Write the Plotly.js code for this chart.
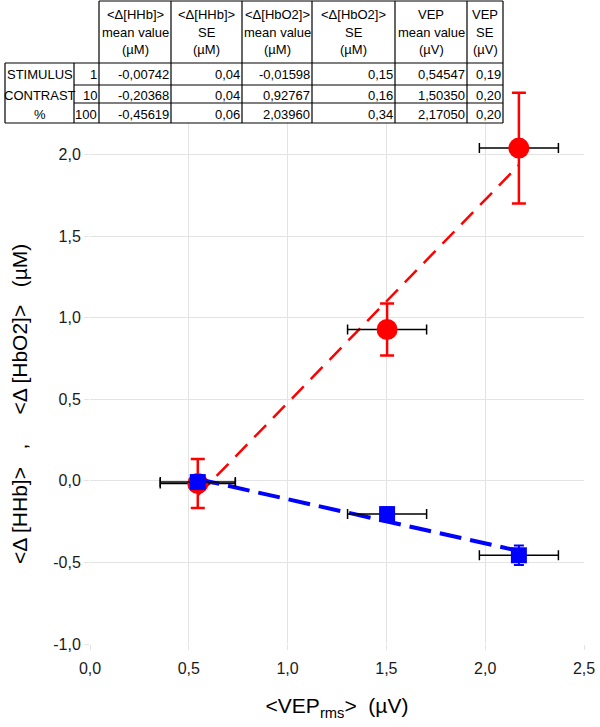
<!DOCTYPE html>
<html>
<head>
<meta charset="utf-8">
<script src="https://cdn.plot.ly/plotly-3.0.1.min.js"></script>
<style>html,body{margin:0;padding:0;background:#fff;}#chart{width:600px;height:727px;}</style>
</head>
<body>
<div id="chart"></div>
<script>
// ---- data ----
const contrast = [1, 10, 100];
const hhbMean = [-0.00742, -0.20368, -0.45619];
const hhbSE = [0.04, 0.04, 0.06];
const hbo2Mean = [-0.01598, 0.92767, 2.03960];
const hbo2SE = [0.15, 0.16, 0.34];
const vepMean = [0.54547, 1.50350, 2.17050];
const vepSE = [0.19, 0.20, 0.20];
const headerTop = ['<Δ[HHb]>', '<Δ[HHb]>', '<Δ[HbO2]>', '<Δ[HbO2]>', 'VEP', 'VEP'];
const headerMid = ['mean value', 'SE', 'mean value', 'SE', 'mean value', 'SE'];
const headerUnit = ['(µM)', '(µM)', '(µM)', '(µM)', '(µV)', '(µV)'];
const rowLabel = ['STIMULUS', 'CONTRAST', '%'];
const xTickVals = [0, 0.5, 1, 1.5, 2, 2.5];
const xTickText = ['0,0', '0,5', '1,0', '1,5', '2,0', '2,5'];
const yTickVals = [-1, -0.5, 0, 0.5, 1, 1.5, 2];
const yTickText = ['-1,0', '-0,5', '0,0', '0,5', '1,0', '1,5', '2,0'];

// ---- geometry ----
const W = 600, H = 727;
const M = {l: 90, r: 16, t: 73, b: 83};
const PW = W - M.l - M.r, PH = H - M.t - M.b;
const px = x => (x - M.l) / PW;
const py = y => (H - M.b - y) / PH;

function fit(xs, ys) {
  const n = xs.length;
  const mx = xs.reduce((a, b) => a + b, 0) / n;
  const my = ys.reduce((a, b) => a + b, 0) / n;
  let sxy = 0, sxx = 0;
  for (let i = 0; i < n; i++) { sxy += (xs[i] - mx) * (ys[i] - my); sxx += (xs[i] - mx) ** 2; }
  const s = sxy / sxx, b = my - s * mx;
  const x0 = Math.min(...xs), x1 = Math.max(...xs);
  return {x: [x0, x1], y: [b + s * x0, b + s * x1]};
}
const redFit = fit(vepMean, hbo2Mean);
const blueFit = fit(vepMean, hhbMean);

const fmt = (v, d) => v.toFixed(d).replace('.', ',');
const esc = s => s.replace(/</g, '&lt;').replace(/>/g, '&gt;');

const traces = [
  {x: redFit.x, y: redFit.y, mode: 'lines', line: {color: '#ff0000', width: 2.5, dash: '17px,10px'}, hoverinfo: 'skip'},
  {x: vepMean, y: hbo2Mean, mode: 'markers', marker: {symbol: 'circle', size: 21, color: '#ff0000'},
   error_y: {type: 'data', array: hbo2SE, visible: true, color: '#ff0000', thickness: 2.5, width: 7},
   error_x: {type: 'data', array: vepSE, visible: true, color: '#000000', thickness: 1.5, width: 5}},
  {x: blueFit.x, y: blueFit.y, mode: 'lines', line: {color: '#0000ff', width: 4, dash: '22px,9px'}, hoverinfo: 'skip'},
  {x: vepMean, y: hhbMean, mode: 'markers', marker: {symbol: 'square', size: 16, color: '#0000ff'},
   error_y: {type: 'data', array: hhbSE, visible: true, color: '#0000ff', thickness: 2, width: 5},
   error_x: {type: 'data', array: vepSE, visible: true, color: '#000000', thickness: 1.5, width: 5}}
];

// ---- table (shapes + annotations) ----
const tf = {family: '"Liberation Sans", Arial, sans-serif', size: 13, color: '#000'};
const colX = [5, 74, 99, 171, 242, 312, 395, 467, 503];
const rowY = [1, 63, 85, 103, 123];
const shapes = [];
const line = (x0, y0, x1, y1) => shapes.push({type: 'line', xref: 'paper', yref: 'paper', x0: px(x0), y0: py(y0), x1: px(x1), y1: py(y1), line: {color: '#000', width: 1.2}, layer: 'above'});
shapes.push({type: 'rect', xref: 'paper', yref: 'paper', x0: px(colX[2]), x1: px(colX[8]), y0: py(rowY[0]), y1: py(rowY[4]), fillcolor: '#fff', line: {width: 0}, layer: 'above'});
shapes.push({type: 'rect', xref: 'paper', yref: 'paper', x0: px(colX[0]), x1: px(colX[8]), y0: py(rowY[1]), y1: py(rowY[4]), fillcolor: '#fff', line: {width: 0}, layer: 'above'});
line(colX[2], rowY[0], colX[8], rowY[0]);
line(colX[0], rowY[1], colX[8], rowY[1]);
line(colX[1], rowY[2], colX[8], rowY[2]);
line(colX[1], rowY[3], colX[8], rowY[3]);
line(colX[0], rowY[4], colX[8], rowY[4]);
line(colX[0], rowY[1], colX[0], rowY[4]);
line(colX[1], rowY[1], colX[1], rowY[4]);
for (let c = 2; c < colX.length; c++) line(colX[c], rowY[0], colX[c], rowY[4]);

const annotations = [];
const ann = (text, x, y, xanchor) => annotations.push({text: text, xref: 'paper', yref: 'paper', x: px(x), y: py(y), xanchor: xanchor, yanchor: 'middle', showarrow: false, font: tf, borderpad: 0});
for (let c = 0; c < 6; c++) {
  const cx = (colX[c + 2] + colX[c + 3]) / 2;
  ann(esc(headerTop[c]), cx, 14, 'center');
  ann(headerMid[c], cx, 32, 'center');
  ann(headerUnit[c], cx, 50, 'center');
}
for (let r = 0; r < 3; r++) {
  const cy = (rowY[r + 1] + rowY[r + 2]) / 2 + 1;
  ann(rowLabel[r], (colX[0] + colX[1]) / 2, cy, 'center');
  ann(String(contrast[r]), colX[2] - 1, cy, 'right');
  const vals = [fmt(hhbMean[r], 5), fmt(hhbSE[r], 2), fmt(hbo2Mean[r], 5), fmt(hbo2SE[r], 2), fmt(vepMean[r], 5), fmt(vepSE[r], 2)];
  for (let c = 0; c < 6; c++) ann(vals[c], colX[c + 3] - 1, cy, 'right');
}
// y-axis title as rotated annotation
const nb = '\u00A0';
annotations.push({
  text: '&lt;Δ [HHb]&gt;' + nb.repeat(3) + ',' + nb.repeat(5) + '&lt;Δ [HbO2]&gt;' + nb.repeat(3) + '(µM)',
  xref: 'paper', yref: 'paper', x: px(19), y: py(404), xanchor: 'center', yanchor: 'middle',
  textangle: -90, showarrow: false, font: {family: '"Liberation Sans", Arial, sans-serif', size: 21, color: '#000'}
});

const grid = '#e3e3e3';
const layout = {
  width: W, height: H, autosize: false,
  margin: M,
  paper_bgcolor: '#fff', plot_bgcolor: '#fff',
  showlegend: false,
  font: {family: '"Liberation Sans", Arial, sans-serif', color: '#1a1a1a'},
  xaxis: {
    range: [0, 2.5], tickmode: 'array', tickvals: xTickVals, ticktext: xTickText,
    showgrid: true, gridcolor: grid, gridwidth: 1, zeroline: false, showline: false,
    ticks: 'outside', ticklen: 5, tickcolor: grid, ticklabelstandoff: 5,
    tickfont: {size: 16, color: '#1a1a1a'},
    title: {text: '&lt;VEP<sub>rms</sub>&gt;' + nb + nb + '(µV)', font: {size: 21, color: '#000'}, standoff: 22}
  },
  yaxis: {
    range: [-1, 2.5], tickmode: 'array', tickvals: yTickVals, ticktext: yTickText,
    showgrid: true, gridcolor: grid, gridwidth: 1, zeroline: false, showline: false,
    ticks: 'outside', ticklen: 5, tickcolor: grid,
    tickfont: {size: 16, color: '#1a1a1a'}
  },
  shapes: shapes,
  annotations: annotations
};

Plotly.newPlot('chart', traces, layout, {displayModeBar: false, staticPlot: true});
</script>
</body>
</html>
